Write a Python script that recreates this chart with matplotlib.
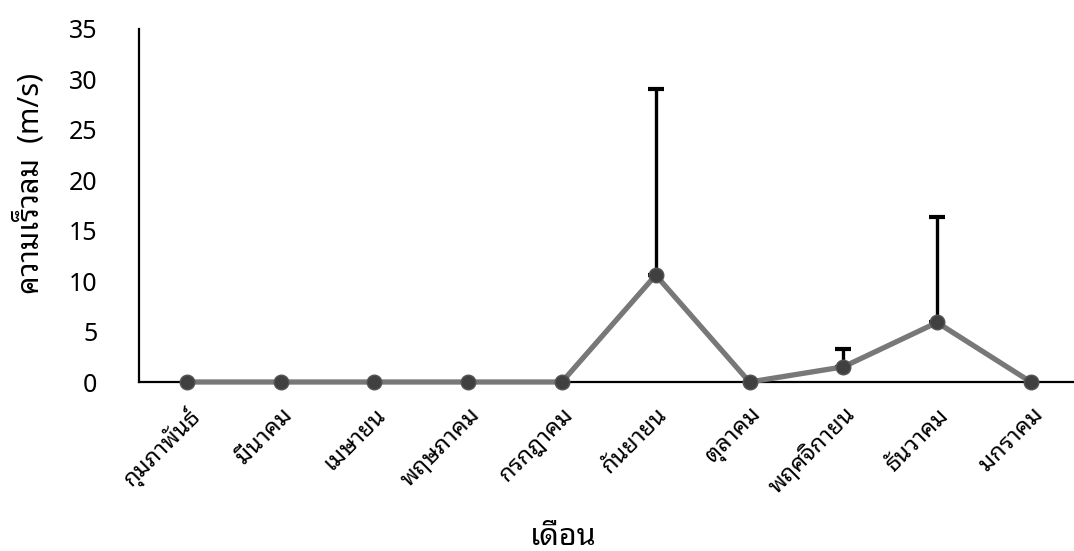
import matplotlib
matplotlib.use("Agg")
import matplotlib.pyplot as plt

plt.rcParams['font.family'] = ['Noto Sans', 'Noto Sans Thai Looped', 'DejaVu Sans']

months = ["กุมภาพันธ์", "มีนาคม", "เมษายน", "พฤษภาคม", "กรกฎาคม",
          "กันยายน", "ตุลาคม", "พฤศจิกายน", "ธันวาคม", "มกราคม"]
speed = [0, 0, 0, 0, 0, 10.6, 0, 1.5, 5.9, 0]
err_up = [0, 0, 0, 0, 0, 18.5, 0, 1.8, 10.45, 0]
yticks = [0, 5, 10, 15, 20, 25, 30, 35]

fig = plt.figure(figsize=(10.74, 5.51), dpi=100)
ax = fig.add_axes([139 / 1074, 169 / 551, 935 / 1074, 353 / 551])

x = list(range(len(months)))
# only upper error bars, and only where there is one
ex = [i for i in x if err_up[i] > 0]
ax.errorbar(ex, [speed[i] for i in ex], yerr=[[0] * len(ex), [err_up[i] for i in ex]],
            fmt='none', ecolor='black', elinewidth=2.4, capsize=6, capthick=3, zorder=2)
ax.plot(x, speed, color='#787878', lw=3.8, marker='o', ms=10.5,
        mfc='#404040', mec='#555555', mew=1, zorder=3, clip_on=False)

ax.set_xlim(-0.51, 9.46)
ax.set_ylim(0, 35)
ax.set_yticks(yticks)
ax.set_xticks(x)
ax.set_xticklabels(months, rotation=45, ha='right', rotation_mode='anchor', fontsize=17)
ax.tick_params(axis='y', length=0, pad=30, labelsize=18)
ax.tick_params(axis='x', length=0, pad=15)

for s in ['top', 'right']:
    ax.spines[s].set_visible(False)
for s in ['left', 'bottom']:
    ax.spines[s].set_linewidth(1.6)
    ax.spines[s].set_color('black')

fig.text(30 / 1074, 1 - 183 / 551, "ความเร็วลม  (m/s)", rotation=90,
         ha='center', va='center', fontsize=21, fontweight='medium')
fig.text(563 / 1074, 1 - 545 / 551, "เดือน", ha='center', va='baseline',
         fontsize=22, fontweight='medium')

fig.savefig("out.png")
